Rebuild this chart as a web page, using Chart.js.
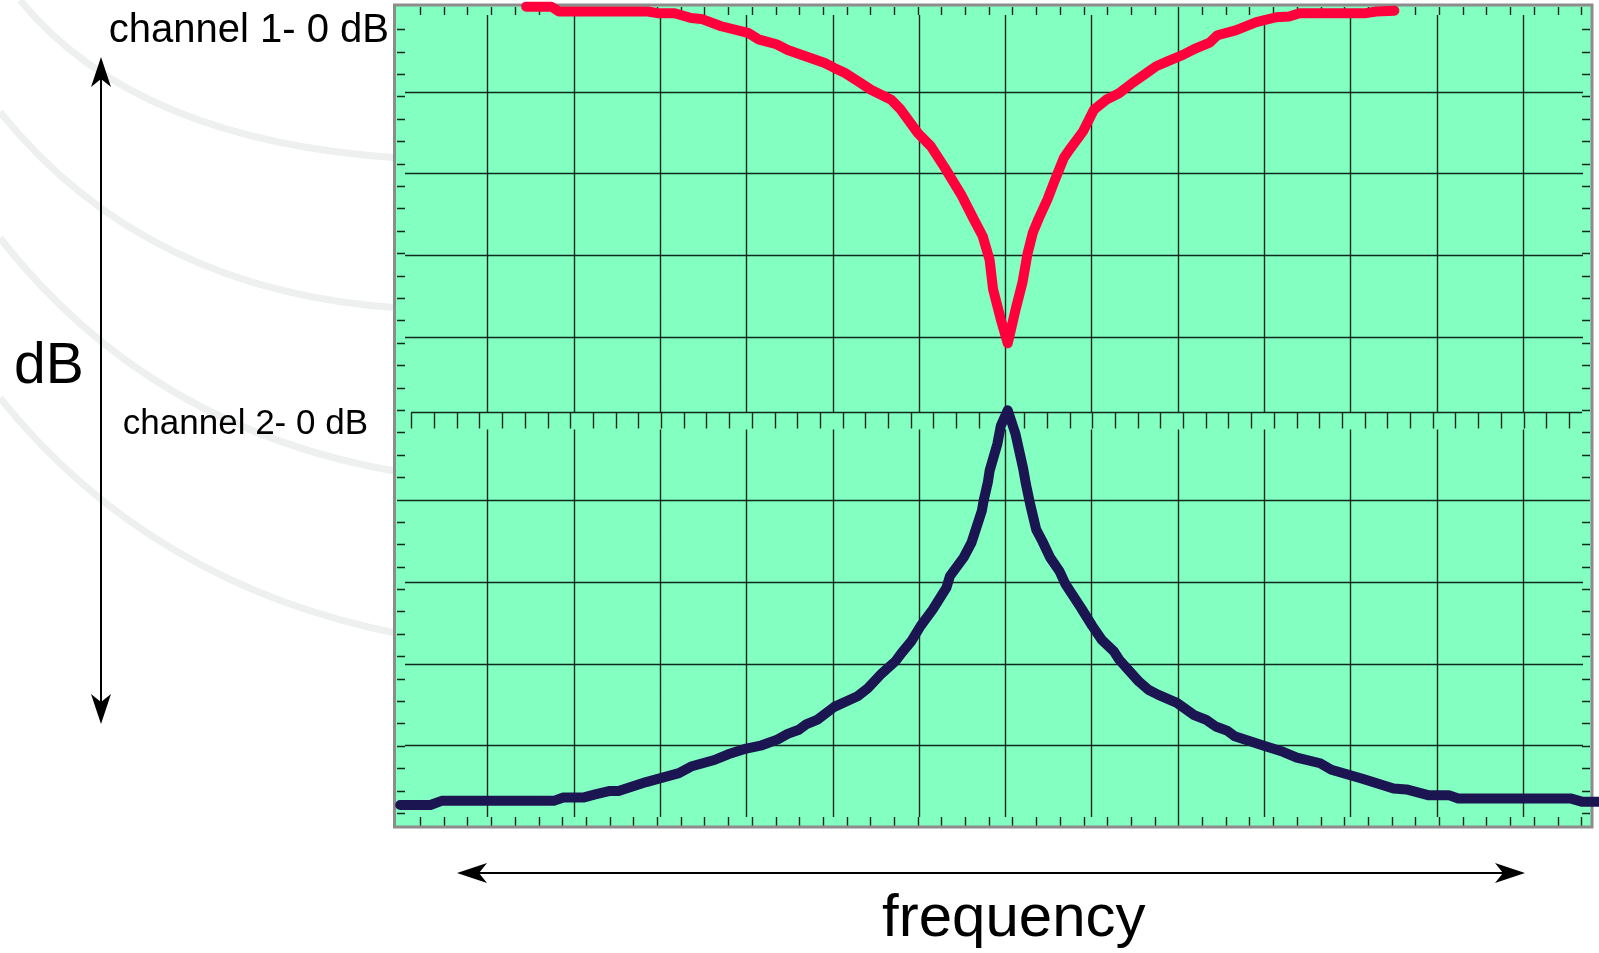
<!DOCTYPE html>
<html>
<head>
<meta charset="utf-8">
<title>channel response</title>
<script src="https://cdn.jsdelivr.net/npm/chart.js@4.4.0/dist/chart.umd.min.js"></script>
<style>
html, body { margin: 0; padding: 0; background: #fff; }
#wrap { width: 1599px; height: 953px; }
</style>
</head>
<body>
<div id="wrap"><canvas id="myChart" width="1599" height="953"></canvas></div>
<script>
// frequency: grid divisions from the centre line, level: divisions up from the bottom of the screen
var ch1Freq = [-5.55, -5.26, -5.17, -4.14, -4.03, -3.83, -3.64, -3.52, -3.29, -2.98,
	-2.86, -2.65, -2.52, -2.33, -2.09, -1.98, -1.86, -1.71, -1.55, -1.32,
	-1.21, -1.01, -0.86, -0.70, -0.51, -0.36, -0.26, -0.18, -0.14, -0.05, 0.03,
	0.12, 0.20, 0.26, 0.32, 0.39, 0.49, 0.57, 0.68, 0.76, 0.90,
	1.03, 1.17, 1.32, 1.48, 1.67, 1.75, 1.90, 2.06, 2.21, 2.37,
	2.46, 2.67, 2.91, 3.14, 3.29, 3.41, 4.18, 4.30, 4.51];
var ch1Level = [10.04, 10.04, 9.98, 9.98, 9.96, 9.96, 9.90, 9.89, 9.80, 9.72,
	9.64, 9.58, 9.51, 9.44, 9.35, 9.29, 9.23, 9.13, 9.02, 8.90,
	8.78, 8.49, 8.33, 8.07, 7.74, 7.43, 7.23, 6.94, 6.58, 6.21, 5.92,
	6.33, 6.66, 7.02, 7.27, 7.45, 7.68, 7.90, 8.19, 8.31, 8.51,
	8.78, 8.90, 8.98, 9.11, 9.25, 9.31, 9.38, 9.45, 9.53, 9.60,
	9.69, 9.75, 9.85, 9.91, 9.92, 9.96, 9.96, 9.98, 9.99];

var ch2Freq = [-7.01, -6.66, -6.53, -5.23, -5.12, -4.89, -4.75, -4.59, -4.48, -4.16,
	-3.78, -3.64, -3.37, -3.21, -3.00, -2.82, -2.64, -2.52, -2.39, -2.30,
	-2.18, -1.98, -1.71, -1.59, -1.43, -1.27, -1.20, -1.09, -0.98, -0.84,
	-0.68, -0.64, -0.48, -0.39, -0.27, -0.25, -0.20, -0.18, -0.09, -0.05, 0.03,
	0.12, 0.21, 0.24, 0.29, 0.36, 0.43, 0.52, 0.63, 0.70, 0.88,
	1.01, 1.12, 1.26, 1.32, 1.43, 1.55, 1.66, 1.77, 1.99, 2.19,
	2.33, 2.44, 2.57, 2.66, 2.98, 3.22, 3.38, 3.65, 3.78, 4.14,
	4.50, 4.65, 4.90, 5.14, 5.25, 6.55, 6.68, 6.90];
var ch2Level = [0.27, 0.27, 0.32, 0.32, 0.36, 0.36, 0.40, 0.44, 0.44, 0.55,
	0.66, 0.74, 0.82, 0.89, 0.96, 1.00, 1.07, 1.14, 1.19, 1.26,
	1.31, 1.47, 1.60, 1.70, 1.88, 2.03, 2.13, 2.27, 2.46, 2.66,
	2.93, 3.07, 3.30, 3.48, 3.87, 3.99, 4.22, 4.36, 4.69, 4.91, 5.10,
	4.81, 4.38, 4.20, 3.95, 3.64, 3.50, 3.30, 3.13, 2.97, 2.68,
	2.46, 2.29, 2.15, 2.05, 1.92, 1.78, 1.68, 1.62, 1.52, 1.37,
	1.31, 1.23, 1.18, 1.11, 1.00, 0.92, 0.85, 0.78, 0.70, 0.59,
	0.47, 0.46, 0.39, 0.39, 0.35, 0.35, 0.31, 0.31];

var ch1Label = 'channel 1- 0 dB';
var ch2Label = 'channel 2- 0 dB';
var yLabel = 'dB';
var xLabel = 'frequency';

var FONT = '"Liberation Sans", Arial, Helvetica, sans-serif';

function points(xs, ys) {
	return xs.map(function(x, i) {
		return { x : x, y : ys[i] };
	});
}

function arrowHead(c, x, y, dx, dy) {
	// barbed arrow head, tip at x,y pointing along dx,dy
	var len = 30, half = 10, notch = 8;
	var px = -dy, py = dx;
	c.beginPath();
	c.moveTo(x, y);
	c.lineTo(x - dx * len + px * half, y - dy * len + py * half);
	c.lineTo(x - dx * (len - notch), y - dy * (len - notch));
	c.lineTo(x - dx * len - px * half, y - dy * len - py * half);
	c.closePath();
	c.fill();
}

// faint swooshes in the white margin, behind everything
var backdrop = {
	id : 'backdrop',
	beforeDraw : function(chart) {
		var c = chart.ctx;
		var arcs = [
			[ 20, 0, 135, 141, 400, 158 ],
			[ 0, 112, 145, 292, 400, 308 ],
			[ 0, 238, 150, 430, 400, 472 ],
			[ 0, 398, 150, 585, 400, 634 ]
		];
		c.save();
		c.strokeStyle = 'rgba(215,222,219,0.45)';
		c.lineWidth = 7;
		arcs.forEach(function(s) {
			c.beginPath();
			c.moveTo(s[0], s[1]);
			c.quadraticCurveTo(s[2], s[3], s[4], s[5]);
			c.stroke();
		});
		c.restore();
	}
};

// oscilloscope screen: green face, graticule, minor ticks and frame
var screen = {
	id : 'screen',
	beforeDatasetsDraw : function(chart) {
		var c = chart.ctx, a = chart.chartArea;
		var xs = chart.scales.x, ys = chart.scales.y;
		var sep = Math.round(ys.getPixelForValue(5.08)) + 0.5;
		var i, p;

		c.save();
		c.fillStyle = '#84ffc2';
		c.fillRect(a.left, a.top, a.right - a.left, a.bottom - a.top);

		c.strokeStyle = '#0f2a1c';
		c.lineWidth = 1.4;
		c.beginPath();
		// vertical divisions, split by the channel 2 top edge
		for (i = -6; i <= 6; i++) {
			p = Math.round(xs.getPixelForValue(i)) + 0.5;
			c.moveTo(p, a.top + 10);
			c.lineTo(p, sep);
			c.moveTo(p, sep + 17);
			c.lineTo(p, a.bottom - 10);
		}
		// horizontal divisions
		for (i = 1; i <= 9; i++) {
			if (i === 5) continue;
			p = Math.round(ys.getPixelForValue(i)) + 0.5;
			c.moveTo(a.left + 10, p);
			c.lineTo(a.right - 9, p);
		}
		c.moveTo(a.left + 16, sep);
		c.lineTo(a.right - 10, sep);

		// minor ticks along top and bottom edges
		for (i = 0; i < 50; i++) {
			p = Math.round(xs.getPixelForValue(-6.78 + i * 0.2746)) + 0.5;
			c.moveTo(p, a.top + 2);
			c.lineTo(p, a.top + 10);
			c.moveTo(p, a.bottom - 10);
			c.lineTo(p, a.bottom - 1);
		}
		// minor ticks hanging from channel 2 top edge
		for (i = 0; i < 52; i++) {
			p = Math.round(xs.getPixelForValue(-6.88 + i * 0.263)) + 0.5;
			c.moveTo(p, sep);
			c.lineTo(p, sep + 16);
		}
		// minor ticks on the sides
		for (i = 0; i < 36; i++) {
			p = Math.round(ys.getPixelForValue(9.764 - i * 0.2741)) + 0.5;
			c.moveTo(a.left + 2, p);
			c.lineTo(a.left + 10, p);
			c.moveTo(a.right - 10, p);
			c.lineTo(a.right - 2, p);
		}
		c.stroke();

		c.strokeStyle = '#8c8c8c';
		c.lineWidth = 3;
		c.strokeRect(a.left - 0.5, a.top, a.right - a.left + 0.5, a.bottom - a.top);
		c.restore();
	},
	afterDraw : function(chart) {
		var c = chart.ctx, a = chart.chartArea;
		var xs = chart.scales.x;
		c.save();
		c.fillStyle = '#000';
		c.textBaseline = 'alphabetic';

		c.textAlign = 'right';
		c.font = '40px ' + FONT;
		c.fillText(ch1Label, a.left - 6, 42);
		c.font = '35px ' + FONT;
		c.fillText(ch2Label, a.left - 27, 434);

		c.textAlign = 'left';
		c.font = '57px ' + FONT;
		c.fillText(yLabel, 14, 383);

		c.textAlign = 'center';
		c.font = '60px ' + FONT;
		c.fillText(xLabel, xs.getPixelForValue(0.1), 936);

		// level arrow
		c.strokeStyle = '#000';
		c.lineWidth = 2;
		c.beginPath();
		c.moveTo(101, 75);
		c.lineTo(101, 706);
		c.stroke();
		arrowHead(c, 101, 57, 0, -1);
		arrowHead(c, 101, 724, 0, 1);

		// frequency arrow
		c.beginPath();
		c.moveTo(475, 873);
		c.lineTo(1507, 873);
		c.stroke();
		arrowHead(c, 457, 873, -1, 0);
		arrowHead(c, 1525, 873, 1, 0);
		c.restore();
	}
};

var ctx = document.getElementById('myChart').getContext('2d');
var chart = new Chart(ctx, {
	type : 'line',
	data : {
		datasets : [ {
			label : ch1Label,
			data : points(ch1Freq, ch1Level),
			borderColor : 'rgb(255, 0, 60)',
			borderWidth : 10,
			borderCapStyle : 'round',
			borderJoinStyle : 'round',
			pointRadius : 0,
			tension : 0,
			fill : false,
			clip : false
		}, {
			label : ch2Label,
			data : points(ch2Freq, ch2Level),
			borderColor : 'rgb(27, 22, 82)',
			borderWidth : 10,
			borderCapStyle : 'round',
			borderJoinStyle : 'round',
			pointRadius : 0,
			tension : 0,
			fill : false,
			clip : false
		} ]
	},
	options : {
		responsive : false,
		animation : false,
		devicePixelRatio : 1,
		layout : {
			padding : { left : 395, right : 7, top : 5, bottom : 126 }
		},
		plugins : {
			legend : { display : false },
			tooltip : { enabled : false }
		},
		scales : {
			x : { type : 'linear', min : -7.07, max : 6.80, display : false },
			y : { type : 'linear', min : 0, max : 10.06, display : false }
		}
	},
	plugins : [ backdrop, screen ]
});
</script>
</body>
</html>
